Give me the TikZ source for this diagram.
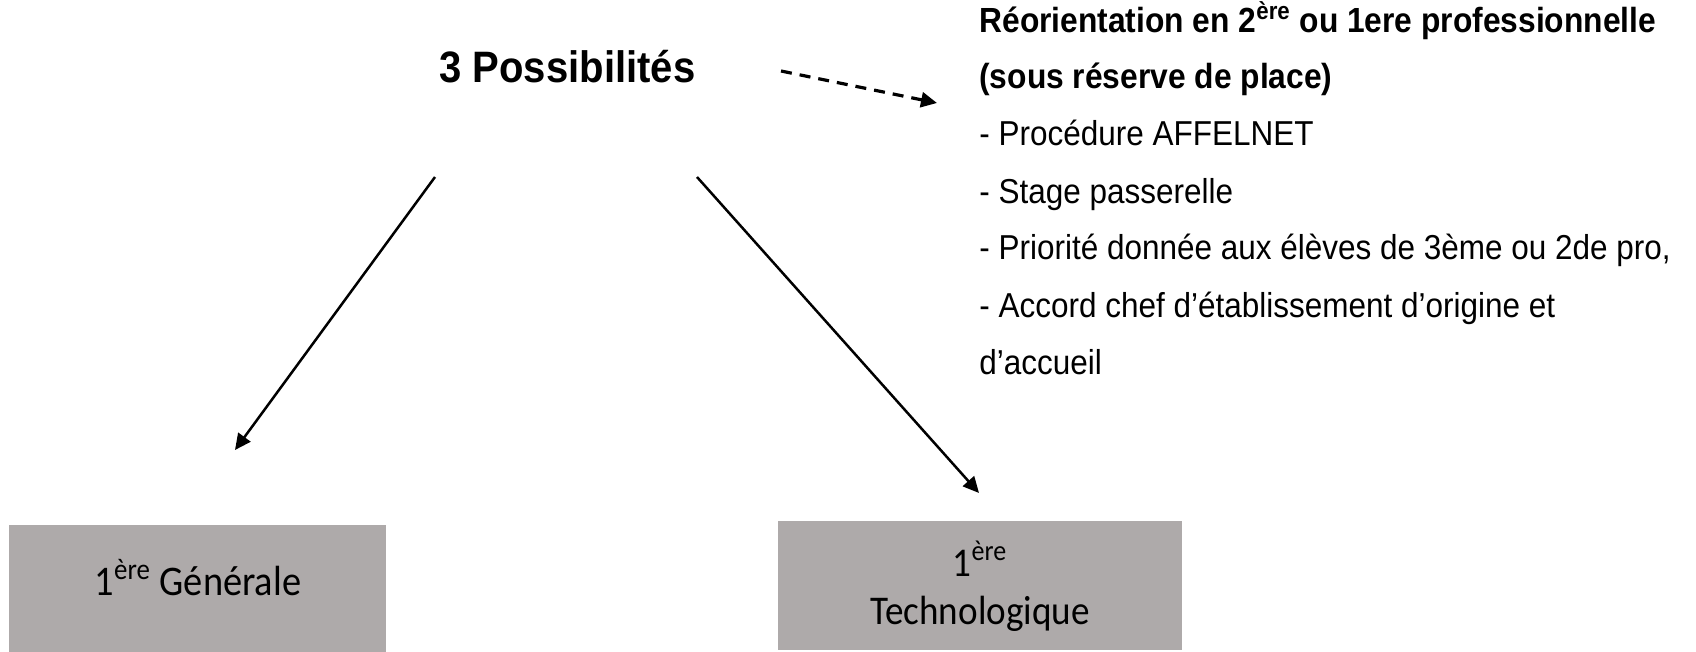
\documentclass[tikz,border=0pt]{standalone}
\usepackage{fontspec}
\setmainfont[FakeStretch=0.91]{Liberation Sans}
\newfontfamily\calibri[FakeStretch=0.91]{Carlito}
\usetikzlibrary{arrows.meta}
\definecolor{boxgray}{HTML}{AEAAAA}
\begin{document}
\begin{tikzpicture}[x=0.5pt,y=-0.5pt,
  txt/.style={anchor=base west,inner sep=0pt,font=\fontsize{17.3pt}{20pt}\selectfont},
  boldtxt/.style={txt,font=\bfseries\fontsize{17.45pt}{20pt}\selectfont},
  titletxt/.style={anchor=base west,inner sep=0pt,font=\bfseries\fontsize{22pt}{26pt}\selectfont},
  graybox/.style={fill=boxgray,draw=none,inner sep=0pt},
  boxtxt/.style={inner sep=0pt,align=center,font=\calibri\fontsize{21.1pt}{24pt}\selectfont},
  boxtxtb/.style={inner sep=0pt,align=center,font=\calibri\fontsize{20.4pt}{24pt}\selectfont},
  conn/.style={line width=1.25pt,-{Triangle[length=8pt,width=7.5pt]}},
  dconn/.style={line width=1.6pt,dash pattern=on 5.5pt off 4pt,-{Triangle[length=8pt,width=7.5pt]}}]
\useasboundingbox (0,0) rectangle (1696,652);
% title
\node[titletxt] (title) at (439,83) {3 Possibilités};
% right block
\node[boldtxt] (l1) at (979,32.5) {Réorientation en 2\textsuperscript{ère} ou 1ere professionnelle};
\node[boldtxt] (l2) at (979,89) {(sous réserve de place)};
\node[txt] (l3) at (979,146) {- Procédure AFFELNET};
\node[txt] (l4) at (979,203.5) {- Stage passerelle};
\node[txt] (l5) at (979,260) {- Priorité donnée aux élèves de 3ème ou 2de pro,};
\node[txt] (l6) at (979,317) {- Accord chef d’établissement d’origine et};
\node[txt] (l7) at (979,374) {d’accueil};
% boxes
\path[graybox] (9,525) rectangle (386,652);
\node[boxtxt,anchor=base] (gen) at (198,595) {1\textsuperscript{ère} Générale};
\path[graybox] (778,521) rectangle (1182,650);
\node[boxtxtb,anchor=base] (tech1) at (980,576) {1\textsuperscript{ère}};
\node[boxtxtb,anchor=base] (tech2) at (980,624) {Technologique};
% connectors
\coordinate (d0) at (781,71);
\coordinate (d1) at (937,103);
\coordinate (a0) at (435,177);
\coordinate (a1) at (235,450);
\coordinate (b0) at (697,177);
\coordinate (b1) at (979,493);
\draw[dconn] (d0) -- (d1);
\draw[conn] (a0) -- (a1);
\draw[conn] (b0) -- (b1);
\end{tikzpicture}
\end{document}
